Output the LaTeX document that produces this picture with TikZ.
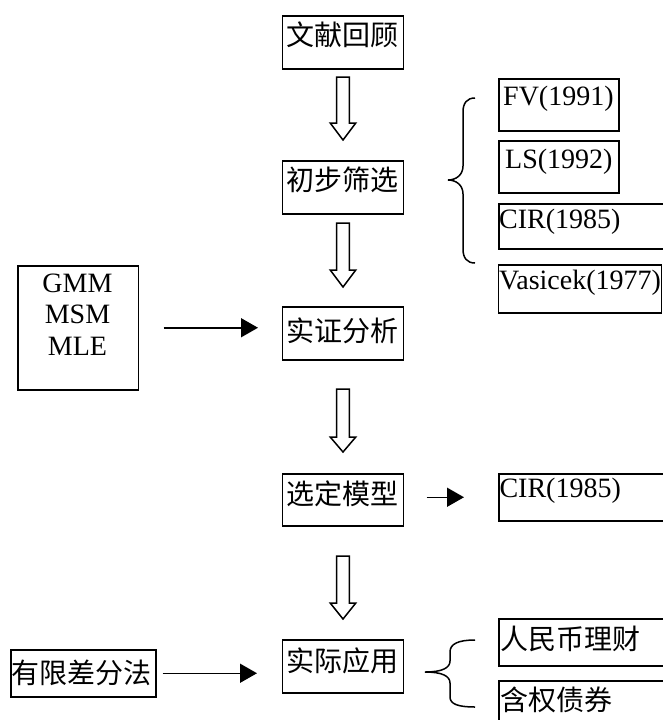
\documentclass[tikz,border=0pt]{standalone}
\usepackage{fontspec}
\setmainfont{Liberation Serif}
\newfontfamily\cjk{Noto Sans CJK SC}
\usetikzlibrary{arrows.meta}
\tikzset{
  box/.style={draw, line width=1.5pt, inner sep=0pt, anchor=north west},
  txt/.style={inner sep=0pt, anchor=base, font=\fontsize{28}{32}\selectfont},
  ltxt/.style={inner sep=0pt, anchor=base west, font=\fontsize{28}{32}\selectfont},
  ctxt/.style={inner sep=0pt, anchor=base west, font=\fontsize{28}{32}\selectfont\cjk},
  mtxt/.style={inner sep=0pt, anchor=base, font=\fontsize{28}{32}\selectfont\cjk},
  arr/.style={line width=1.5pt, -{Triangle[length=17pt,width=19pt]}},
  hollow/.style={line width=1.5pt, line join=miter, fill=white},
  brace/.style={line width=1.5pt}
}
\newcommand{\hollowdown}[3]{%
  \draw[hollow] (336.7,#1) -- (349.3,#1) -- (349.3,#2) -- (355.8,#2) -- (343,#3)
    -- (330.2,#2) -- (336.7,#2) -- cycle;}
\begin{document}
\begin{tikzpicture}[x=1pt,y=-1pt]
\useasboundingbox (0,0) rectangle (662,720);
% main column
\node[box, minimum width=121pt, minimum height=53pt] (b1) at (281.7,15) {};
\node[mtxt] (t1) at (342,45) {文献回顾};
\node[box, minimum width=121pt, minimum height=53pt] (b2) at (281.7,160) {};
\node[mtxt] (t2) at (342,190) {初步筛选};
\node[box, minimum width=121pt, minimum height=53pt] (b3) at (281.7,306) {};
\node[mtxt] (t3) at (342,341) {实证分析};
\node[box, minimum width=121pt, minimum height=52pt] (b4) at (281.7,473) {};
\node[mtxt] (t4) at (342,504) {选定模型};
\node[box, minimum width=121pt, minimum height=53pt] (b5) at (281.7,639) {};
\node[mtxt] (t5) at (342,671) {实际应用};
% hollow arrows
\hollowdown{77}{123}{140}
\hollowdown{223}{270}{287}
\hollowdown{389}{437}{452}
\hollowdown{556}{603}{619}
% left boxes
\node[box, minimum width=120.4pt, minimum height=124pt] (gmm) at (17.3,265) {};
\node[inner sep=0pt, anchor=north, align=center, font=\fontsize{28}{31.7}\selectfont] (tg) at (77.5,273.5) {GMM\\MSM\\MLE};
\draw[arr, shorten <=24.3pt, shorten >=23.7pt] (gmm.east) -- (gmm.east -| b3.west);
\node[box, minimum width=145pt, minimum height=47pt] (fd) at (10,649) {};
\node[ctxt] (tfd) at (11.7,683) {有限差分法};
\draw[arr, shorten <=6pt, shorten >=24.7pt] (fd.east) -- (fd.east -| b5.west);
% top right group
\node[box, minimum width=120pt, minimum height=52pt] (fv) at (498,78) {};
\node[ltxt] (tfv) at (503,105) {FV(1991)};
\node[box, minimum width=120pt, minimum height=52pt] (ls) at (498,140) {};
\node[ltxt] (tls) at (505,168) {LS(1992)};
\node[box, minimum width=180pt, minimum height=45pt] (cir) at (498,203) {};
\node[ltxt] (tcir) at (499,228) {CIR(1985)};
\node[box, minimum width=163pt, minimum height=48pt] (vas) at (497.7,264) {};
\node[ltxt] (tvas) at (499,289) {Vasicek(1977)};
\draw[brace] (475,98) .. controls (467,98) and (463,103) .. (463,112) -- (463,166)
  .. controls (463,175) and (456,180) .. (448,180)
  .. controls (456,180) and (463,185) .. (463,194) -- (463,249)
  .. controls (463,258) and (467,263) .. (475,263);
% selected model
\node[box, minimum width=180pt, minimum height=47pt] (cir2) at (498,473) {};
\node[ltxt] (tcir2) at (499.3,497) {CIR(1985)};
\draw[arr, shorten <=22.3pt, shorten >=34pt] (b4.east |- cir2.west) -- (cir2.west);
% applications
\node[box, minimum width=180pt, minimum height=47pt] (rmb) at (498.3,618) {};
\node[ctxt] (trmb) at (500,649) {人民币理财};
\node[box, minimum width=180pt, minimum height=60pt] (hq) at (498.3,680) {};
\node[ctxt] (thq) at (500,710) {含权债券};
\draw[brace] (475,640) .. controls (458,640) and (450,644) .. (450,652) -- (450,661)
  .. controls (450,668) and (442,672) .. (425,672)
  .. controls (442,672) and (450,676) .. (450,683) -- (450,697)
  .. controls (450,704) and (458,707) .. (475,707);
\end{tikzpicture}
\end{document}
